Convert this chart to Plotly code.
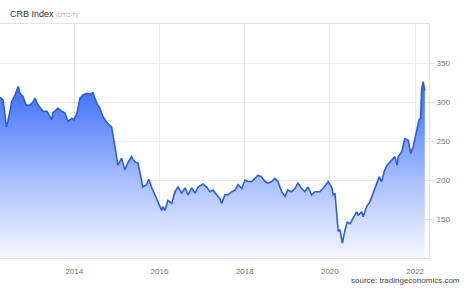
import plotly.graph_objects as go

dates = [
    "2012-04-04", "2012-04-29", "2012-05-16", "2012-05-29", "2012-06-11", "2012-07-13",
    "2012-08-10", "2012-09-08", "2012-09-22", "2012-10-18", "2012-11-13", "2012-12-17",
    "2013-01-12", "2013-01-29", "2013-02-24", "2013-04-08", "2013-05-12", "2013-06-21",
    "2013-07-02", "2013-08-14", "2013-09-17", "2013-10-13", "2013-11-08", "2013-12-12",
    "2013-12-29", "2014-01-24", "2014-02-19", "2014-03-16", "2014-04-19", "2014-05-15",
    "2014-06-09", "2014-07-14", "2014-08-09", "2014-09-04", "2014-10-16", "2014-11-17",
    "2014-12-15", "2015-01-10", "2015-02-11", "2015-03-10", "2015-04-05", "2015-05-06",
    "2015-06-04", "2015-06-30", "2015-07-31", "2015-08-11", "2015-09-12", "2015-10-02",
    "2015-10-25", "2015-11-23", "2015-12-19", "2016-01-20", "2016-01-31", "2016-02-17",
    "2016-03-14", "2016-04-15", "2016-05-13", "2016-06-08", "2016-07-10", "2016-08-07",
    "2016-09-02", "2016-10-04", "2016-11-01", "2016-11-27", "2017-01-08", "2017-02-09",
    "2017-03-09", "2017-04-04", "2017-05-05", "2017-06-03", "2017-06-17", "2017-07-16",
    "2017-08-11", "2017-09-12", "2017-10-10", "2017-11-05", "2017-12-07", "2018-01-03",
    "2018-01-29", "2018-03-01", "2018-03-30", "2018-04-24", "2018-05-26", "2018-06-24",
    "2018-07-19", "2018-08-20", "2018-09-17", "2018-10-13", "2018-11-14", "2018-12-12",
    "2019-01-06", "2019-02-07", "2019-03-07", "2019-04-02", "2019-05-04", "2019-06-01",
    "2019-06-27", "2019-07-29", "2019-08-26", "2019-10-08", "2019-11-02", "2019-12-04",
    "2019-12-18", "2020-01-16", "2020-01-30", "2020-02-14", "2020-02-28", "2020-03-13",
    "2020-03-28", "2020-04-17", "2020-05-10", "2020-05-29", "2020-06-22", "2020-07-20",
    "2020-08-18", "2020-09-01", "2020-09-29", "2020-10-13", "2020-11-11", "2020-12-09",
    "2021-01-07", "2021-02-05", "2021-02-27", "2021-03-19", "2021-04-16", "2021-05-06",
    "2021-05-29", "2021-06-21", "2021-07-11", "2021-07-31", "2021-08-09", "2021-09-07",
    "2021-10-05", "2021-11-03", "2021-11-24", "2021-12-16", "2022-01-14", "2022-02-03",
    "2022-02-17", "2022-02-26", "2022-03-11", "2022-03-25",
]

crb_values = [
    306, 303, 285, 268, 275, 300,
    309, 320, 311, 307, 296, 296,
    300, 305, 296, 288, 288, 277,
    286, 292, 288, 286, 275, 279,
    277, 286, 305, 309, 311, 310,
    312, 298, 292, 281, 272, 268,
    243, 219, 228, 213, 222, 230,
    223, 222, 200, 191, 194, 201,
    191, 181, 174, 161, 166, 161,
    174, 170, 185, 191, 183, 190,
    181, 190, 183, 191, 195, 191,
    185, 187, 181, 176, 170, 181,
    181, 185, 187, 194, 189, 200,
    198, 198, 202, 206, 204, 198,
    196, 198, 202, 198, 185, 179,
    187, 185, 189, 196, 189, 185,
    191, 181, 185, 185, 189, 196,
    198, 191, 181, 183, 161, 134,
    136, 119, 136, 146, 144, 151,
    159, 155, 159, 153, 166, 172,
    183, 194, 204, 198, 213, 219,
    223, 226, 230, 219, 230, 236,
    253, 251, 234, 243, 264, 277,
    279, 317, 326, 315,
]

y_tick_values = [150, 200, 250, 300, 350]
y_tick_labels = ["150", "200", "250", "300", "350"]

fig = go.Figure()
fig.add_trace(go.Scatter(
    x=dates,
    y=crb_values,
    mode="lines",
    line=dict(color="#2c5ee0", width=1.6),
    fill="tozeroy",
    fillgradient=dict(
        type="vertical",
        start=100,
        stop=330,
        colorscale=[[0, "rgb(246,248,255)"], [0.45, "rgb(165,188,255)"], [1, "rgb(52,104,245)"]],
    ),
    hoverinfo="skip",
))

fig.update_layout(
    width=468,
    height=294,
    margin=dict(l=0, r=39, t=24, b=36),
    paper_bgcolor="white",
    plot_bgcolor="white",
    showlegend=False,
    font=dict(family="Liberation Sans, Arial, sans-serif", size=8, color="#666"),
    xaxis=dict(
        type="date",
        range=["2012-04-04", "2022-04-30"],
        tick0="2014-01-01",
        dtick="M24",
        tickformat="%Y",
        showgrid=True,
        gridcolor="#ebebeb",
        gridwidth=1,
        showline=True,
        linecolor="#e2e2e2",
        mirror=True,
        ticks="outside",
        ticklen=5,
        tickcolor="rgba(0,0,0,0)",
        tickfont=dict(size=8, color="#777"),
        zeroline=False,
    ),
    yaxis=dict(
        side="right",
        range=[100, 400],
        tickvals=y_tick_values,
        ticktext=y_tick_labels,
        showgrid=True,
        gridcolor="#ebebeb",
        gridwidth=1,
        showline=True,
        linecolor="#e2e2e2",
        ticks="outside",
        ticklen=5,
        tickcolor="#e2e2e2",
        tickfont=dict(size=8, color="#777"),
        zeroline=False,
    ),
)

fig.add_annotation(
    x=8 / 429, y=1 + 10 / 234, xref="paper", yref="paper", xanchor="left", yanchor="middle",
    text="CRB Index <span style='font-size:6px;color:#aaa'>(UTC-7)</span>",
    showarrow=False, font=dict(size=9, color="#333"),
)

fig.add_annotation(
    x=1 + 33 / 429, y=-22 / 234, xref="paper", yref="paper",
    xanchor="right", yanchor="middle",
    text="source: tradingeconomics.com",
    showarrow=False, font=dict(size=8, color="#444"),
)

fig.write_html("out.html")
